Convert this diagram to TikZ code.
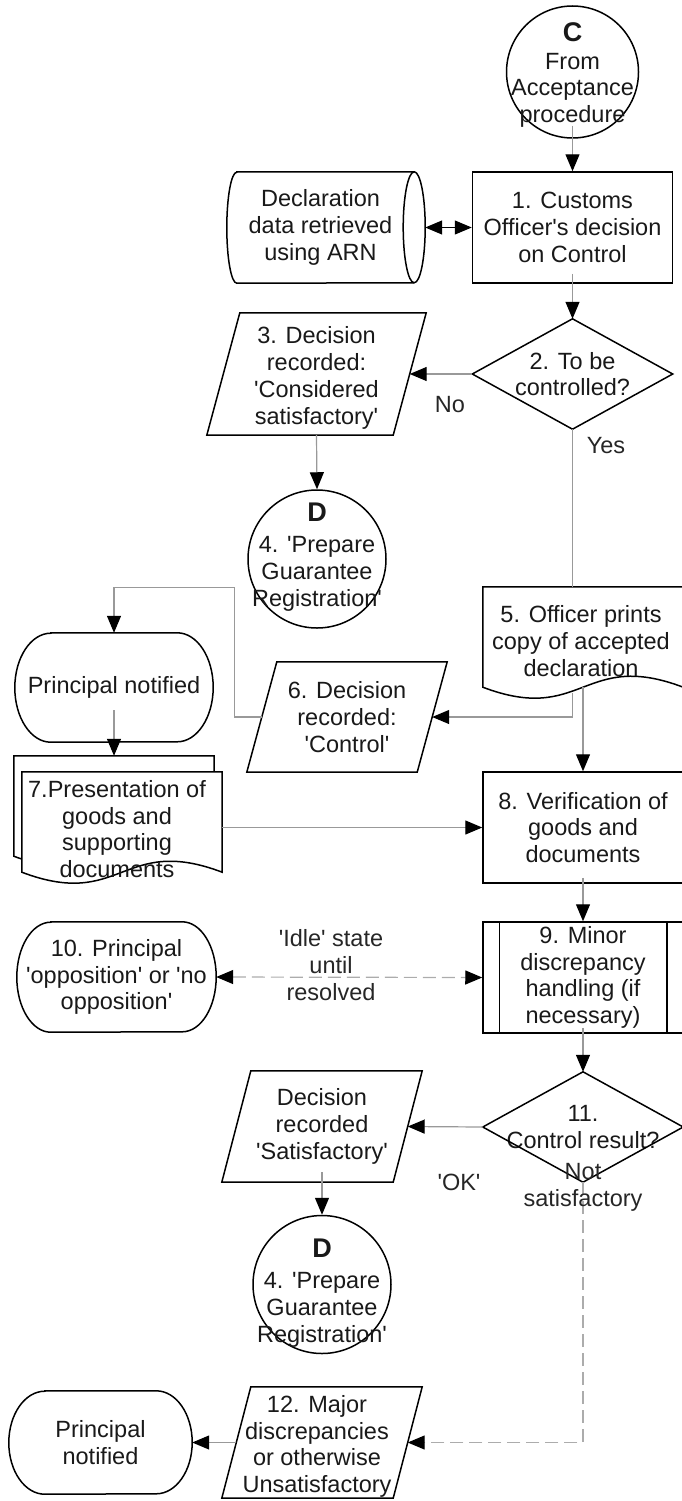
\documentclass[tikz,border=0pt]{standalone}
\usepackage{fontspec}
\setmainfont{Liberation Sans}[Ligatures=TeXOff]
\usetikzlibrary{arrows.meta,calc}
\pgfdeclarelayer{bg}
\pgfsetlayers{bg,main}
\newcommand\tfs{\fontsize{23.5pt}{26.8pt}\selectfont}
\newcommand\ltr[1]{{\fontsize{27pt}{30pt}\selectfont\bfseries #1}}
\newcommand\termshape[3]{\draw[shp] ([xshift=#2pt]#1.north west) -- ([xshift=-#2pt]#1.north east) arc[start angle=90,end angle=-90,x radius=#2pt,y radius=#3pt] -- ([xshift=#2pt]#1.south west) arc[start angle=270,end angle=90,x radius=#2pt,y radius=#3pt] -- cycle;}
\newcommand\pgramshape[2]{\draw[shp] ([xshift=#2pt]#1.north west) -- ([xshift=#2pt]#1.north east) -- ([xshift=-#2pt]#1.south east) -- ([xshift=-#2pt]#1.south west) -- cycle;}
\newcommand\diamshape[1]{\draw[shp] (#1.north) -- (#1.east) -- (#1.south) -- (#1.west) -- cycle;}
\tikzset{
  txt/.style={font=\tfs, align=center, inner sep=0pt, text=black!90},
  geo/.style n args={2}{txt, minimum width=#1pt, minimum height=#2pt},
  shp/.style={draw=black, line width=1.5pt, line join=miter},
  conn/.style={draw=gray!80, line width=1.2pt},
  arr/.style={conn, -{Triangle[length=17pt,width=14pt,color=black]}},
  dconn/.style={draw=gray!65, line width=1.2pt, dash pattern=on 13pt off 6pt},
  darr/.style={dconn, -{Triangle[length=17pt,width=14pt,color=black]}},
  dboth/.style={dconn, {Triangle[length=17pt,width=14pt,color=black]}-{Triangle[length=17pt,width=14pt,color=black]}},
  sboth/.style={draw=black, line width=1.2pt, {Triangle[length=17pt,width=14pt,color=black]}-{Triangle[length=17pt,width=14pt,color=black]}},
  circ/.style={shp, circle, inner sep=0pt, minimum size=#1pt},
  lbl/.style={txt, text=black!85},
}
\begin{document}
\begin{tikzpicture}[x=1pt,y=-1pt]
\useasboundingbox (0,0) rectangle (681,1501);

% C connector circle
\node[circ=132] (c) at (572.5,72) {};
\node[txt] (ct) at (572.5,75) {\ltr{C}\\[1pt]From\\Acceptance\\procedure};

% declaration data (direct access storage)
\node[geo={187}{111}] (dec) at (320.5,227.5) {Declaration\\data retrieved\\using ARN};
\draw[shp] ([xshift=10pt]dec.north west) -- (dec.north east) arc[start angle=90,end angle=-90,x radius=11pt,y radius=55.5pt] -- ([xshift=10pt]dec.south west) arc[start angle=270,end angle=90,x radius=10pt,y radius=55.5pt] -- cycle;
\draw[shp] (dec.north east) arc[start angle=90,end angle=270,x radius=11pt,y radius=55.5pt];

% 1
\node[geo={200}{111}, shp] (b1) at (572.5,227.5) {1. Customs\\Officer's decision\\on Control};
\draw[arr] ([yshift=13pt]c.south) -- (b1.north);
\draw[sboth] ([xshift=11pt]dec.east) -- (b1.west);

% 2
\node[geo={200}{110}] (d2) at (572.5,374) {2. To be\\controlled?};
\diamshape{d2}
\draw[arr] ([yshift=10pt]b1.south) -- (d2.north);

% 3
\node[geo={186}{122}] (p3) at (316.5,374) {};
\pgramshape{p3}{16.5}
\node[txt] (p3t) at (316.5,378) {3. Decision\\recorded:\\'Considered\\satisfactory'};
\draw[arr] (d2.west) -- (p3.east);
\node[lbl] (no) at (450,405) {No};

% D (first)
\node[circ=138] (dA) at (317,559) {};
\node[txt] (dAt) at (317,557) {\ltr{D}\\[4pt]4. 'Prepare\\Guarantee\\Registration'};
\draw[arr] (p3.south) -- (dA.north);

% 5 document
\node[geo={200}{100}] (doc5) at (583,637) {};
\begin{pgfonlayer}{bg}
\draw[shp, fill=white] (doc5.north west) -- (doc5.north east) -- (doc5.south east) .. controls ($(doc5.south)+(0,-38)$) and ($(doc5.south)+(0,38)$) .. (doc5.south west) -- cycle;
\end{pgfonlayer}
\node[txt] (doc5t) at (581,641) {5. Officer prints\\copy of accepted\\declaration};
\draw[conn] (d2.south) -- (d2.south |- doc5.north);
\node[lbl] (yes) at (606,446) {Yes};

% 6
\node[geo={170}{110}] (p6) at (347,717) {6. Decision\\recorded:\\'Control'};
\pgramshape{p6}{15}
\draw[arr] (d2.south |- doc5.south) ++(0,6) |- (p6.east);

% Principal notified (top)
\node[geo={198}{109}] (pn1) at (114,687.5) {Principal notified};
\termshape{pn1}{36}{54.5}
\draw[arr] (p6.west) -- ++(-27,0) |- ([yshift=45pt]pn1.north) -- (pn1.north);

% 7 multi-document
\node[geo={200}{100}] (m7) at (122,822) {};
\begin{pgfonlayer}{bg}
\draw[shp, fill=white] ($(m7.north west)+(-8,-16)$) -- ($(m7.north east)+(-8,-16)$) -- ($(m7.south east)+(-8,-16)$) .. controls ($(m7.south)+(-8,-54)$) and ($(m7.south)+(-8,22)$) .. ($(m7.south west)+(-8,-16)$) -- cycle;
\draw[shp, fill=white] (m7.north west) -- (m7.north east) -- (m7.south east) .. controls ($(m7.south)+(0,-38)$) and ($(m7.south)+(0,38)$) .. (m7.south west) -- cycle;
\end{pgfonlayer}
\node[txt] (m7t) at (117,829) {7.Presentation of\\goods and\\supporting\\documents};
\draw[arr] ([yshift=32pt]pn1.south) -- ($(m7.north)+(-8,-16)$);

% 8
\node[geo={200}{111}, shp] (b8) at (583,827.5) {8. Verification of\\goods and\\documents};
\draw[arr] (doc5.south) -- (b8.north);
\draw[arr] (m7.east |- b8.west) -- (b8.west);

% 9 predefined process
\node[geo={200}{111}, shp] (b9) at (583,977.5) {9. Minor\\discrepancy\\handling (if\\necessary)};
\draw[shp] ([xshift=17pt]b9.north west) -- ([xshift=17pt]b9.south west);
\draw[shp] ([xshift=-17pt]b9.north east) -- ([xshift=-17pt]b9.south east);
\draw[arr] ([yshift=6pt]b8.south) -- (b9.north);

% 10
\node[geo={199}{110}] (t10) at (116.5,977) {10. Principal\\'opposition' or 'no\\opposition'};
\termshape{t10}{34}{55}
\draw[dboth] (t10.east) -- (b9.west);
\node[lbl] (idle) at (331,965) {'Idle' state\\until\\resolved};

% 11
\node[geo={200}{110}] (d11) at (583,1127) {11.\\Control result?};
\diamshape{d11}
\draw[arr] ([yshift=6pt]b9.south) -- (d11.north);

% Decision recorded satisfactory
\node[geo={171}{111}] (ps) at (322,1126.5) {Decision\\recorded\\'Satisfactory'};
\pgramshape{ps}{14.5}
\draw[arr] (d11.west) -- (ps.east);
\node[lbl] (ok) at (459,1182) {'OK'};

% D (second)
\node[circ=138] (dB) at (322,1284.5) {};
\node[txt] (dBt) at (322,1293) {\ltr{D}\\[4pt]4. 'Prepare\\Guarantee\\Registration'};
\draw[arr] ([yshift=10pt]ps.south) -- (dB.north);

% 12
\node[geo={171}{111}] (p12) at (322,1442.5) {};
\pgramshape{p12}{14.5}
\node[txt] (p12t) at (317,1446.5) {12. Major\\discrepancies\\or otherwise\\Unsatisfactory};
\draw[darr] (d11.south) |- (p12.east);
\node[lbl] (ns) at (583,1187) {Not\\satisfactory};

% Principal notified (bottom)
\node[geo={183}{103}] (pn2) at (100.5,1442.5) {Principal\\notified};
\termshape{pn2}{36}{51.5}
\draw[arr] (p12.west) -- (pn2.east);
\end{tikzpicture}
\end{document}
